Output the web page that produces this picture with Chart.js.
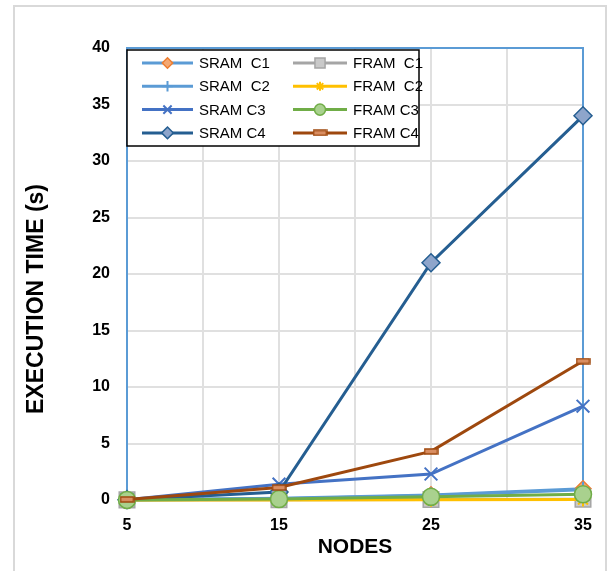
<!DOCTYPE html>
<html>
<head>
<meta charset="utf-8">
<script src="https://cdn.jsdelivr.net/npm/chart.js@4.4.1/dist/chart.umd.min.js"></script>
<style>
  body { margin: 0; background: #fff; }
  #wrap { width: 615px; height: 571px; }
</style>
</head>
<body>
<div id="wrap"><canvas id="myChart" width="615" height="571"></canvas></div>
<script>
// values (execution time in seconds)
const nodes = [5, 15, 25, 35]
const xTickLabels = [5, 15, 25, 35]
const yTicks = [0, 5, 10, 15, 20, 25, 30, 35, 40]

const sramC1 = [0.02, 0.15, 0.45, 1.0]
const sramC2 = [0.02, 0.12, 0.4, 0.9]
const sramC3 = [0.03, 1.4, 2.3, 8.3]
const sramC4 = [0.03, 0.7, 21.0, 34.0]
const framC1 = [0.01, 0.03, 0.05, 0.07]
const framC2 = [0.0, 0.01, 0.02, 0.04]
const framC3 = [0.01, 0.08, 0.28, 0.5]
const framC4 = [0.05, 1.1, 4.3, 12.3]

const seriesNames = ['SRAM  C1', 'SRAM  C2', 'SRAM C3', 'SRAM C4', 'FRAM  C1', 'FRAM  C2', 'FRAM C3', 'FRAM C4']
const yTitle = 'EXECUTION TIME (s)'
const xTitle = 'NODES'

const FONT = '"Liberation Sans", Arial, sans-serif'

// small brown bar marker for FRAM C4
function barMarker(w, h) {
  const c = document.createElement('canvas')
  c.width = w; c.height = h
  const g = c.getContext('2d')
  g.fillStyle = '#D98E62'
  g.fillRect(1, 1, w - 2, h - 2)
  g.strokeStyle = '#9E480E'
  g.lineWidth = 1.5
  g.strokeRect(1, 1, w - 2, h - 2)
  return c
}

function pts(arr) {
  return nodes.map((n, i) => ({x: n, y: arr[i]}))
}

function series(label, data, line, style, fill, stroke, radius, order) {
  return {
    label: label,
    data: pts(data),
    borderColor: line,
    borderWidth: 3,
    pointStyle: style,
    pointBackgroundColor: fill,
    pointBorderColor: stroke,
    pointBorderWidth: 1.5,
    pointRadius: radius,
    tension: 0,
    fill: false,
    clip: false,
    order: order
  }
}

const datasets = [
  series(seriesNames[0], sramC1, '#5B9BD5', 'rectRot', '#F4A873', '#ED7D31', 8, 6),
  series(seriesNames[1], sramC2, '#5B9BD5', 'cross', '#5B9BD5', '#5B9BD5', 8, 5),
  series(seriesNames[2], sramC3, '#4472C4', 'crossRot', '#4472C4', '#4472C4', 9, 3),
  series(seriesNames[3], sramC4, '#255E91', 'rectRot', '#8EA5CB', '#255E91', 9, 2),
  series(seriesNames[4], framC1, '#A5A5A5', 'rect', '#C9C9C9', '#A5A5A5', 11, 7),
  series(seriesNames[5], framC2, '#FFC000', 'star', '#FFC000', '#FFC000', 7, 4),
  series(seriesNames[6], framC3, '#70AD47', 'circle', '#A9D18E', '#70AD47', 8.5, 1),
  series(seriesNames[7], framC4, '#9E480E', barMarker(15, 7), '#D98E62', '#9E480E', 7, 0)
]
datasets[1].pointBorderWidth = 2
datasets[2].pointBorderWidth = 2
datasets[5].pointBorderWidth = 2

// outer frame, blue plot frame and the y axis title
const frames = {
  id: 'frames',
  beforeDraw(chart) {
    const ctx = chart.ctx
    ctx.save()
    ctx.fillStyle = '#fff'
    ctx.fillRect(0, 0, chart.width, chart.height)
    ctx.strokeStyle = '#d9d9d9'
    ctx.lineWidth = 2
    ctx.strokeRect(14, 6, 592, 600)
    // y title sits a bit below the plot's middle, like the original
    ctx.translate(37, 299)
    ctx.rotate(-Math.PI / 2)
    ctx.font = 'bold 23px ' + FONT
    ctx.fillStyle = '#000'
    ctx.textAlign = 'center'
    ctx.textBaseline = 'middle'
    ctx.fillText(yTitle, 0, 0)
    ctx.restore()
  },
  beforeDatasetsDraw(chart) {
    const a = chart.chartArea
    const ctx = chart.ctx
    ctx.save()
    ctx.strokeStyle = '#5B9BD5'
    ctx.lineWidth = 2
    ctx.strokeRect(a.left, a.top, a.right - a.left, a.bottom - a.top)
    ctx.restore()
  }
}

// legend box in the top-left corner of the plot
const boxLegend = {
  id: 'boxLegend',
  afterDatasetsDraw(chart) {
    const ctx = chart.ctx
    const a = chart.chartArea
    const bx = a.left, by = a.top + 2, bw = 292, bh = 96
    ctx.save()
    ctx.fillStyle = '#fff'
    ctx.fillRect(bx, by, bw, bh)
    ctx.strokeStyle = '#000'
    ctx.lineWidth = 1.5
    ctx.strokeRect(bx, by, bw, bh)
    ctx.font = '15px ' + FONT
    ctx.textBaseline = 'middle'
    chart.data.datasets.forEach((ds, i) => {
      const col = i < 4 ? 0 : 1
      const row = i % 4
      const x0 = bx + (col === 0 ? 15 : 166)
      const lineLen = col === 0 ? 51 : 54
      const y = by + 13 + row * 23.3
      ctx.strokeStyle = ds.borderColor
      ctx.lineWidth = 3
      ctx.beginPath()
      ctx.moveTo(x0, y)
      ctx.lineTo(x0 + lineLen, y)
      ctx.stroke()
      ctx.fillStyle = ds.pointBackgroundColor
      ctx.strokeStyle = ds.pointBorderColor
      ctx.lineWidth = ds.pointBorderWidth
      const style = ds.pointStyle
      const r = typeof style === 'string' ? ds.pointRadius * 0.65 : ds.pointRadius
      Chart.helpers.drawPoint(ctx, {pointStyle: style, radius: r, rotation: 0, borderWidth: ds.pointBorderWidth}, x0 + lineLen / 2, y)
      ctx.fillStyle = '#000'
      ctx.fillText(ds.label, x0 + lineLen + 6, y + 1)
    })
    ctx.restore()
  }
}

const ch = document.getElementById('myChart')

new Chart(ch, {
  type: 'line',
  data: {datasets: datasets},
  plugins: [frames, boxLegend],
  options: {
    responsive: false,
    animation: false,
    layout: {padding: {left: 21, top: 48, right: 32, bottom: 8}},
    plugins: {
      legend: {display: false},
      tooltip: {enabled: false}
    },
    scales: {
      x: {
        type: 'linear',
        min: 5,
        max: 35,
        afterBuildTicks(scale) {
          scale.ticks = [5, 10, 15, 20, 25, 30, 35].map(v => ({value: v}))
        },
        afterFit(scale) { scale.height = 63 },
        grid: {color: '#e0e0e0', lineWidth: 2, drawTicks: false},
        border: {display: false},
        ticks: {
          autoSkip: false,
          maxRotation: 0,
          padding: 16,
          color: '#000',
          font: {family: FONT, size: 16, weight: 'bold'},
          callback: v => xTickLabels.includes(v) ? String(v) : ''
        },
        title: {
          display: true,
          text: xTitle,
          color: '#000',
          padding: {top: 0, bottom: 3},
          font: {family: FONT, size: 21, weight: 'bold'}
        }
      },
      y: {
        min: 0,
        max: 40,
        afterBuildTicks(scale) {
          scale.ticks = yTicks.map(v => ({value: v}))
        },
        afterFit(scale) { scale.width = 106 },
        grid: {color: '#e0e0e0', lineWidth: 2, drawTicks: false},
        border: {display: false},
        ticks: {
          padding: 17,
          color: '#000',
          font: {family: FONT, size: 16, weight: 'bold'}
        },
        title: {display: false}
      }
    }
  }
})
</script>
</body>
</html>
